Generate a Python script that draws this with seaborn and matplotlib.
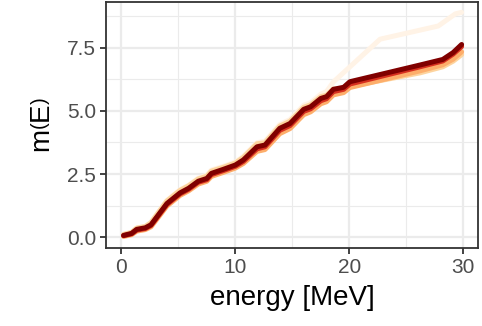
import matplotlib
matplotlib.use("Agg")
import matplotlib.pyplot as plt
import pandas as pd
import seaborn as sns

# energy grid [MeV]
energy = [0.2, 0.9, 1.35, 2.1, 2.6, 4.0, 5.15, 5.9, 6.75, 7.5, 7.9, 8.95, 10.0,
          10.7, 11.9, 12.6, 13.9, 14.8, 16.0, 16.6, 17.5, 18.0, 18.6, 19.5,
          20.05, 26.2, 28.2, 29.1, 29.85]
energy_cream = [0.2, 0.9, 1.35, 2.1, 2.6, 4.0, 5.15, 5.9, 6.75, 7.5, 7.9, 8.95,
                10.0, 10.7, 11.9, 12.6, 13.9, 14.8, 16.0, 16.6, 17.5, 18.0,
                18.6, 22.7, 27.8, 29.3, 29.85]

m_cream = [0.12, 0.20, 0.37, 0.44, 0.60, 1.46, 1.88, 2.06, 2.34, 2.46, 2.66,
           2.81, 2.98, 3.20, 3.74, 3.80, 4.46, 4.66, 5.22, 5.32, 5.66, 5.76,
           6.14, 7.83, 8.35, 8.83, 8.89]
m_peach = [0.12, 0.20, 0.37, 0.43, 0.58, 1.44, 1.86, 2.04, 2.31, 2.42, 2.62,
           2.77, 2.94, 3.16, 3.70, 3.74, 4.40, 4.59, 5.14, 5.24, 5.56, 5.62,
           5.86, 5.88, 5.96, 6.50, 6.74, 6.96, 7.22]
m_orange = [0.04, 0.11, 0.25, 0.31, 0.42, 1.24, 1.66, 1.84, 2.11, 2.22, 2.41,
            2.57, 2.74, 2.92, 3.40, 3.47, 4.10, 4.30, 4.85, 4.96, 5.28, 5.36,
            5.63, 5.72, 5.92, 6.58, 6.82, 7.04, 7.33]
m_red = [0.07, 0.14, 0.29, 0.35, 0.47, 1.30, 1.72, 1.90, 2.18, 2.28, 2.48,
         2.64, 2.81, 3.00, 3.50, 3.58, 4.23, 4.42, 4.98, 5.08, 5.40, 5.48,
         5.76, 5.85, 6.06, 6.74, 6.97, 7.24, 7.54]
m_dark = [0.08, 0.16, 0.32, 0.38, 0.50, 1.34, 1.76, 1.94, 2.22, 2.33, 2.53,
          2.69, 2.86, 3.06, 3.58, 3.65, 4.31, 4.50, 5.06, 5.16, 5.49, 5.56,
          5.85, 5.93, 6.15, 6.81, 7.03, 7.30, 7.62]

series = ["a", "b", "c", "d", "e"]
colors = ["#fff3e6", "#fdd49e", "#fdae6b", "#d7301f", "#800000"]

frames = []
for name, x, y in zip(series,
                      [energy_cream, energy, energy, energy, energy],
                      [m_cream, m_peach, m_orange, m_red, m_dark]):
    frames.append(pd.DataFrame({"energy": x, "m": y, "run": name}))
df = pd.concat(frames, ignore_index=True)

sns.set_theme(style="whitegrid")
plt.rcParams["font.family"] = ["Liberation Sans", "DejaVu Sans"]
plt.rcParams["mathtext.fontset"] = "custom"
plt.rcParams["mathtext.rm"] = "Liberation Sans"
plt.rcParams["mathtext.it"] = "Liberation Sans"

fig, ax = plt.subplots(figsize=(4.82, 3.26), dpi=100)
fig.subplots_adjust(left=0.22, right=0.992, top=0.994, bottom=0.239)

sns.lineplot(data=df, x="energy", y="m", hue="run", hue_order=series,
             palette=colors, estimator=None, linewidth=3.6, legend=False, ax=ax)

ax.set_xlim(-1.34, 31.3)
ax.set_ylim(-0.42, 9.3)
ax.set_xticks([0, 10, 20, 30])
ax.set_yticks([0, 2.5, 5.0, 7.5])
ax.set_yticklabels(["0.0", "2.5", "5.0", "7.5"])
ax.set_xticks([5, 15, 25], minor=True)
ax.set_yticks([1.25, 3.75, 6.25, 8.75], minor=True)

ax.grid(which="major", color="#ebebeb", linewidth=1.6)
ax.grid(which="minor", color="#ebebeb", linewidth=0.8)
ax.set_axisbelow(True)
for s in ax.spines.values():
    s.set_color("#333333")
    s.set_linewidth(1.3)

ax.tick_params(which="major", direction="out", length=4, width=1.3,
               color="#333333", labelcolor="#4d4d4d", labelsize=15,
               bottom=True, left=True, pad=3)
ax.tick_params(which="minor", length=0)

ax.set_xlabel("energy [MeV]", fontsize=20, color="black", labelpad=6)
ax.set_ylabel(r"$\mathrm{m}\left(\mathrm{E}\right)$", fontsize=20,
              color="black", labelpad=8)

fig.savefig("out.png", dpi=100, facecolor="white")
